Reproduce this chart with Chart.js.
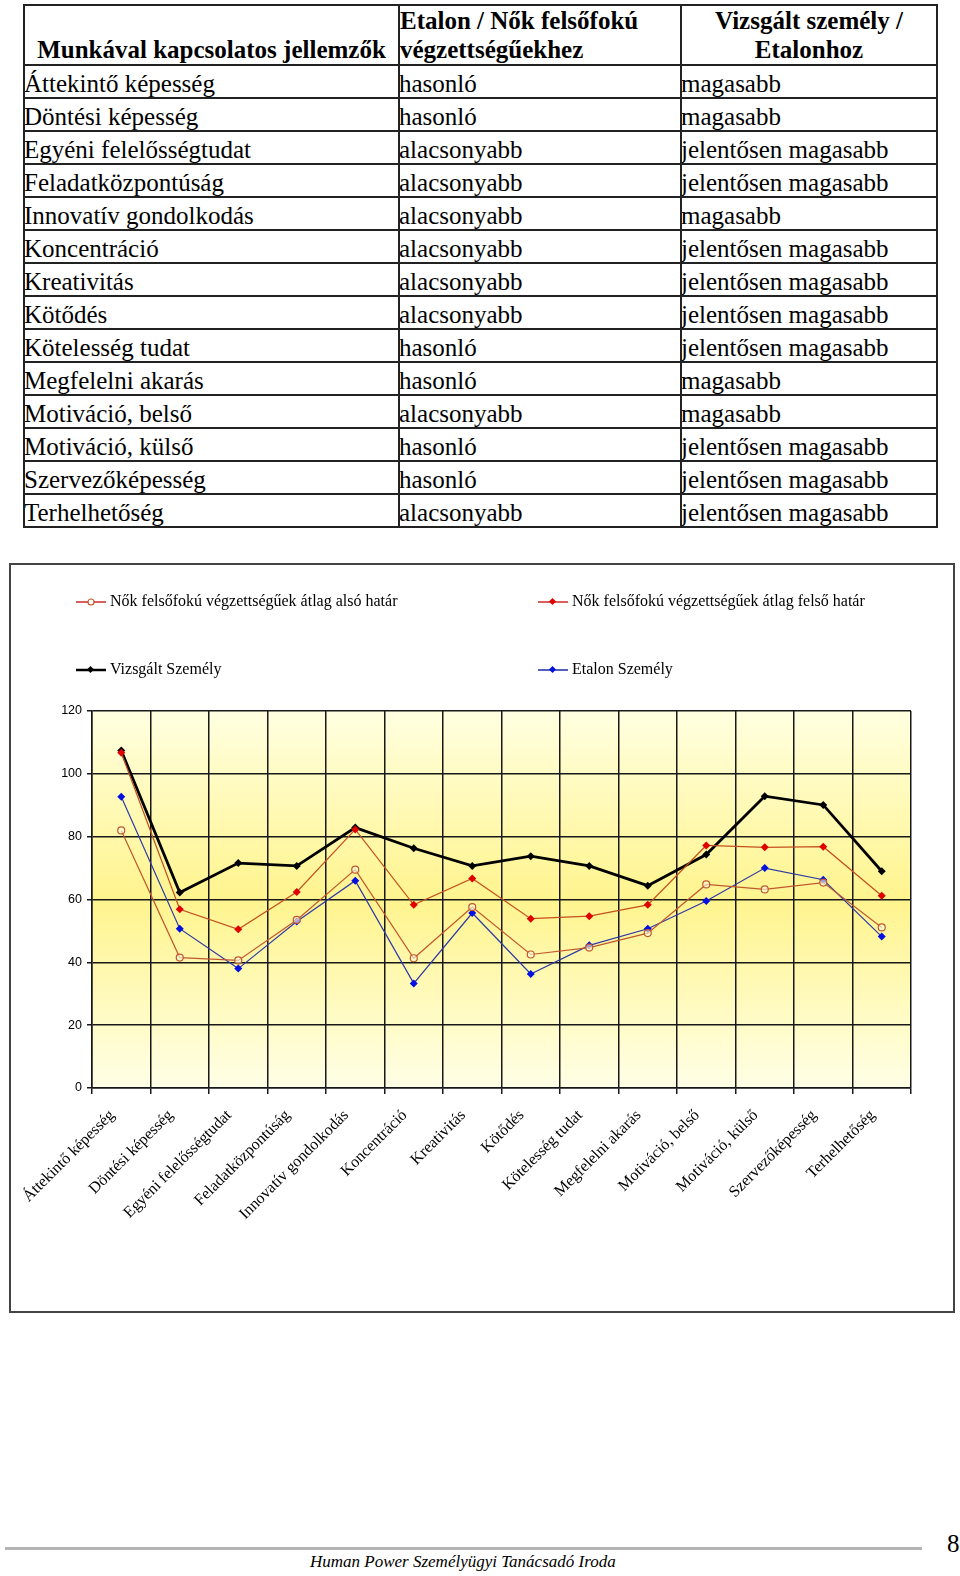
<!DOCTYPE html>
<html>
<head>
<meta charset="utf-8">
<script src="https://cdn.jsdelivr.net/npm/chart.js@4.4.1/dist/chart.umd.min.js"></script>
<style>
body { margin: 0; background: #fff; width: 960px; height: 1576px; position: relative; overflow: hidden; }
#tabla { position: absolute; left: 23px; top: 4px; width: 913px; border-collapse: collapse; table-layout: fixed; font-family: "Liberation Serif", "Times New Roman", serif; color: #000; }
#tabla td, #tabla th { border: 2px solid #222; padding: 0; height: 31px; font-size: 25px; line-height: 27px; vertical-align: bottom; white-space: nowrap; overflow: hidden; text-align: left; }
#tabla td { text-indent: -1px; }
#tabla th { font-weight: bold; font-size: 25px; line-height: 29px; height: 58px; }
#tabla th.kozep { text-align: center; }
#doboz { position: absolute; left: 9px; top: 563px; width: 946px; height: 750px; box-sizing: border-box; border: 2px solid #444; }
#chart { position: absolute; left: 0; top: 0; }
.jel { position: absolute; font-family: "Liberation Serif", serif; font-size: 16px; color: #000; white-space: nowrap; }
.jel svg { position: absolute; left: 0; top: 3px; }
.jel span { position: absolute; left: 34px; top: 0; }
#vonal { position: absolute; left: 5px; top: 1547px; width: 917px; height: 3px; background: #b4b4b4; }
#lablec { position: absolute; left: 310px; top: 1552px; font-family: "Liberation Serif", serif; font-style: italic; font-size: 17px; }
#oldal { position: absolute; left: 947px; top: 1530px; font-family: "Liberation Serif", serif; font-size: 25px; }
</style>
</head>
<body>

<table id="tabla">
  <colgroup><col style="width:375px"><col style="width:282px"><col style="width:256px"></colgroup>
  <thead>
    <tr>
      <th class="kozep">Munkával kapcsolatos jellemzők</th>
      <th>Etalon / Nők felsőfokú<br>végzettségűekhez</th>
      <th class="kozep">Vizsgált személy /<br>Etalonhoz</th>
    </tr>
  </thead>
  <tbody id="tabla_test"></tbody>
</table>

<div id="doboz">
  <canvas id="chart" width="942" height="746"></canvas>
</div>
<div id="jelmagyarazat"></div>

<div id="vonal"></div>
<div id="lablec">Human Power Személyügyi Tanácsadó Iroda</div>
<div id="oldal">8</div>

<script>
var jellemzok = ["Áttekintő képesség", "Döntési képesség", "Egyéni felelősségtudat", "Feladatközpontúság",
    "Innovatív gondolkodás", "Koncentráció", "Kreativitás", "Kötődés", "Kötelesség tudat",
    "Megfelelni akarás", "Motiváció, belső", "Motiváció, külső", "Szervezőképesség", "Terhelhetőség"];

var etalon_viszony = ["hasonló", "hasonló", "alacsonyabb", "alacsonyabb", "alacsonyabb", "alacsonyabb",
    "alacsonyabb", "alacsonyabb", "hasonló", "hasonló", "alacsonyabb", "hasonló", "hasonló", "alacsonyabb"];

var vizsgalt_viszony = ["magasabb", "magasabb", "jelentősen magasabb", "jelentősen magasabb", "magasabb",
    "jelentősen magasabb", "jelentősen magasabb", "jelentősen magasabb", "jelentősen magasabb", "magasabb",
    "magasabb", "jelentősen magasabb", "jelentősen magasabb", "jelentősen magasabb"];

// grafikon értékei
var also_hatar = [82.0, 41.5, 40.6, 53.5, 69.5, 41.3, 57.6, 42.5, 44.7, 49.3, 64.8, 63.2, 65.4, 51.1];
var felso_hatar = [106.7, 56.9, 50.5, 62.4, 82.3, 58.3, 66.7, 53.9, 54.7, 58.3, 77.2, 76.6, 76.8, 61.2];
var vizsgalt = [107.4, 62.2, 71.6, 70.7, 82.9, 76.3, 70.7, 73.8, 70.7, 64.4, 74.3, 92.9, 90.1, 69.0];
var etalon = [92.7, 50.7, 38.0, 53.0, 66.0, 33.3, 55.7, 36.3, 45.4, 50.7, 59.5, 70.0, 66.3, 48.2];

var y_ticks = [0, 20, 40, 60, 80, 100, 120];

var myChart;

function FillTable() {
    var body = document.getElementById('tabla_test');
    for (var i = 0; i < jellemzok.length; i++) {
        var tr = document.createElement('tr');
        tr.innerHTML = "<td>" + jellemzok[i] + "</td><td>" + etalon_viszony[i] + "</td><td>" + vizsgalt_viszony[i] + "</td>";
        body.appendChild(tr);
    }
}

// sárga színátmenet a rajzterület mögött
var hatter = {
    id: 'hatter',
    beforeDraw: function (chart) {
        var a = chart.chartArea;
        var ctx = chart.ctx;
        var g = ctx.createLinearGradient(0, a.top, 0, a.bottom);
        g.addColorStop(0, '#ffffe0');
        g.addColorStop(0.5, '#fff48e');
        g.addColorStop(1, '#ffffe6');
        ctx.save();
        ctx.fillStyle = g;
        ctx.fillRect(a.left, a.top, a.right - a.left, a.bottom - a.top);
        ctx.restore();
    }
};

function MakeLegend(datasets) {
    var helyek = [[76, 592], [538, 592], [76, 660], [538, 660]];
    var box = document.getElementById('jelmagyarazat');
    datasets.forEach(function (ds, i) {
        var d = document.createElement('div');
        d.className = 'jel';
        d.style.left = helyek[i][0] + 'px';
        d.style.top = helyek[i][1] + 'px';
        var marker;
        if (ds.pointStyle == 'circle') {
            marker = "<circle cx='15' cy='7' r='3' fill='#fff' stroke='" + ds.pointBorderColor + "' stroke-width='1.2'/>";
        } else {
            marker = "<rect x='12' y='4' width='5' height='5' transform='rotate(45 14.5 6.5)' fill='" + ds.pointBackgroundColor + "'/>";
        }
        d.innerHTML = "<svg width='32' height='14'><line x1='0' y1='7' x2='30' y2='7' stroke='" + ds.legendColor + "' stroke-width='" + (ds.borderWidth > 2 ? 2.5 : 1.5) + "'/>" + marker + "</svg><span>" + ds.label + "</span>";
        box.appendChild(d);
    });
}

function MakeGraph() {
    var datasets = [
        {
            label: 'Nők felsőfokú végzettségűek átlag alsó határ',
            data: also_hatar,
            borderColor: '#c0582e',
            legendColor: '#cc2a2a',
            borderWidth: 1.2,
            pointStyle: 'circle',
            pointRadius: 3.5,
            pointBorderWidth: 1.2,
            pointBorderColor: '#c0582e',
            pointBackgroundColor: 'rgba(255,255,230,0.6)'
        },
        {
            label: 'Nők felsőfokú végzettségűek átlag felső határ',
            data: felso_hatar,
            borderColor: '#c4501e',
            legendColor: '#cc2a2a',
            borderWidth: 1.2,
            pointStyle: 'rectRot',
            pointRadius: 4,
            pointBorderWidth: 0,
            pointBorderColor: '#e00000',
            pointBackgroundColor: '#e00000'
        },
        {
            label: 'Vizsgált Személy',
            data: vizsgalt,
            borderColor: '#000000',
            legendColor: '#000000',
            borderWidth: 2.8,
            pointStyle: 'rectRot',
            pointRadius: 4,
            pointBorderWidth: 0,
            pointBorderColor: '#000000',
            pointBackgroundColor: '#000000'
        },
        {
            label: 'Etalon  Személy',
            data: etalon,
            borderColor: '#2c3aa8',
            legendColor: '#1c2aa8',
            borderWidth: 1.2,
            pointStyle: 'rectRot',
            pointRadius: 4,
            pointBorderWidth: 0,
            pointBorderColor: '#0010e0',
            pointBackgroundColor: '#0010e0'
        }
    ];

    const config = {
        type: 'line',
        data: { labels: jellemzok, datasets: datasets },
        options: {
            responsive: false,
            animation: false,
            devicePixelRatio: 1,
            layout: { padding: { left: 0, top: 146, right: 42, bottom: 0 } },
            plugins: { legend: { display: false }, tooltip: { enabled: false } },
            elements: { line: { tension: 0 } },
            scales: {
                x: {
                    offset: true,
                    grid: { offset: true, color: '#181818', lineWidth: 1.5, tickLength: 6, tickColor: '#181818' },
                    border: { color: '#181818', width: 1.5 },
                    ticks: {
                        autoSkip: false, minRotation: 45, maxRotation: 45, padding: 12, labelOffset: -9, color: '#000',
                        font: { family: 'Liberation Serif', size: 16 }
                    },
                    afterFit: function (s) { s.height = 223; }
                },
                y: {
                    min: 0, max: 120,
                    afterBuildTicks: function (s) { s.ticks = y_ticks.map(function (v) { return { value: v }; }); },
                    grid: { color: '#181818', lineWidth: 1.5, tickLength: 5, tickColor: '#181818' },
                    border: { color: '#181818', width: 1.5 },
                    ticks: { padding: 5, color: '#000', font: { family: 'Liberation Sans', size: 12.5 } },
                    afterFit: function (s) { s.width = 81; }
                }
            }
        },
        plugins: [hatter]
    };

    myChart = new Chart(document.getElementById('chart'), config);
    MakeLegend(datasets);
}

window.addEventListener("load", function (event) {
    FillTable();
    MakeGraph();
});
</script>
</body>
</html>
